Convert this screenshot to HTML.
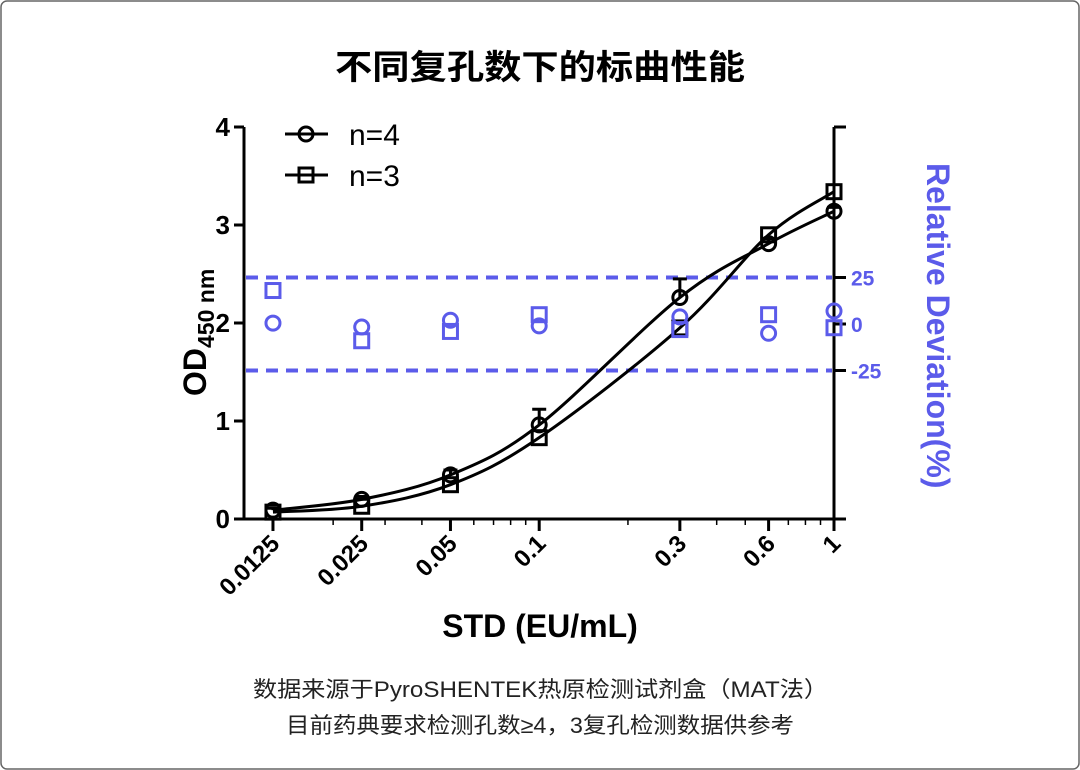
<!DOCTYPE html>
<html><head><meta charset="utf-8"><style>
body{margin:0;background:#fff;}
#wrap{position:relative;width:1080px;height:770px;overflow:hidden;}
</style></head><body>
<div id="wrap">
<svg id="chart" width="1080" height="770" xmlns="http://www.w3.org/2000/svg">
<rect x="1" y="1" width="1078" height="768" rx="6" fill="#fff" stroke="#666" stroke-width="1.5"/>
<text x="335" y="79" textLength="410" lengthAdjust="spacingAndGlyphs" font-family="'Liberation Sans','Noto Sans CJK SC',sans-serif" font-size="34" font-weight="bold">不同复孔数下的标曲性能</text>
<text x="253" y="697" textLength="575" lengthAdjust="spacingAndGlyphs" font-family="'Liberation Sans','Noto Sans CJK SC',sans-serif" font-size="22" fill="#222">数据来源于PyroSHENTEK热原检测试剂盒（MAT法）</text>
<text x="286" y="733" textLength="508" lengthAdjust="spacingAndGlyphs" font-family="'Liberation Sans','Noto Sans CJK SC',sans-serif" font-size="22" fill="#222">目前药典要求检测孔数≥4，3复孔检测数据供参考</text>
<g id="plot"></g>
</svg>
</div>
<script>
const xValues=[0.0125,0.025,0.05,0.1,0.3,0.6,1];
const xTickLabels=['0.0125','0.025','0.05','0.1','0.3','0.6','1'];
const odN4=[0.09,0.2,0.45,0.96,2.26,2.81,3.14];
const errN4=[0.02,0.03,0.05,0.16,0.19,0.05,0.04];
const odN3=[0.07,0.13,0.35,0.83,1.95,2.9,3.34];
const devN4=[0.5,-1.6,2,-1,3.8,-5,7];
const devN3=[18,-9,-4,5,-3,5,-2];
const yTicks=[0,1,2,3,4];
const rightTicks=[25,0,-25];

const NS='http://www.w3.org/2000/svg';
const g=document.getElementById('plot');
const X0=244,X1=834,Y0=519,Y1=127;
const xs=v=>834+294.8*Math.log10(v);
const ys=v=>519-98*v;
const yr=v=>324-1.86*v;
function el(t,a,p){const e=document.createElementNS(NS,t);for(const k in a)e.setAttribute(k,a[k]);(p||g).appendChild(e);return e;}
const BF="'Liberation Sans',sans-serif";

let e;
e=el('line',{x1:X0,y1:Y1,x2:X0,y2:Y0+1,stroke:'#000','stroke-width':3});

e=el('line',{x1:X0-1,y1:Y0,x2:X1+1,y2:Y0,stroke:'#000','stroke-width':3});

e=el('line',{x1:X1,y1:Y1,x2:X1,y2:Y0,stroke:'#000','stroke-width':3});

el('line',{x1:X1,y1:Y1,x2:X1+12,y2:Y1,stroke:'#000','stroke-width':3});
el('line',{x1:X1,y1:Y0,x2:X1+12,y2:Y0,stroke:'#000','stroke-width':3});

yTicks.forEach(t=>{
  el('line',{x1:X0-10,y1:ys(t),x2:X0,y2:ys(t),stroke:'#000','stroke-width':3});
  e=el('text',{x:X0-14,y:ys(t)+9,'text-anchor':'end','font-family':BF,'font-size':26,'font-weight':'bold'});
  e.textContent=t;
  
});
for(let d=-2;d<=0;d++){for(let m=1;m<10;m++){const v=m*Math.pow(10,d);if(v<0.0125||v>1)continue;
  el('line',{x1:xs(v),y1:Y0,x2:xs(v),y2:Y0+6,stroke:'#000','stroke-width':1.5});}}
xValues.forEach((v,i)=>{
  el('line',{x1:xs(v),y1:Y0,x2:xs(v),y2:Y0+12,stroke:'#000','stroke-width':3});
  const x=xs(v)+8,y=Y0+26;
  e=el('text',{x:x,y:y,'text-anchor':'end','font-family':BF,'font-size':24,'font-weight':'bold',transform:`rotate(-45 ${x} ${y})`});
  e.textContent=xTickLabels[i];
  
});
e=el('text',{x:540,y:637,'text-anchor':'middle','font-family':BF,'font-size':32,'font-weight':'bold'});
e.textContent='STD (EU/mL)';

e=el('text',{x:0,y:0,'font-family':BF,'font-size':32,'font-weight':'bold',transform:'translate(206,396) rotate(-90)'});
e.innerHTML='OD<tspan font-size="23" dy="8">450 nm</tspan>';


rightTicks.forEach(t=>{
  el('line',{x1:X1,y1:yr(t),x2:X1+12,y2:yr(t),stroke:'#000','stroke-width':3});
  e=el('text',{x:X1+17,y:yr(t)+8,'font-family':BF,'font-size':21,'font-weight':'bold',fill:'#5b5bea'});
  e.textContent=t;
  
});
e=el('text',{x:0,y:0,'font-family':BF,'font-size':32,'font-weight':'bold',fill:'#5b5bea',transform:'translate(927,163) rotate(90)'});
e.textContent='Relative Deviation(%)';


[25,-25].forEach(t=>{
  e=el('line',{x1:X0+2,y1:yr(t),x2:X1-2,y2:yr(t),stroke:'#5b5bea','stroke-width':4,'stroke-dasharray':'12 8'});
  
});

function curve(vals,name){
  const p=xValues.map((v,i)=>[xs(v),ys(vals[i])]);
  let d=`M${p[0][0]},${p[0][1]}`;
  for(let i=0;i<p.length-1;i++){
    const p0=p[Math.max(0,i-1)],p1=p[i],p2=p[i+1],p3=p[Math.min(p.length-1,i+2)];
    d+=` C${p1[0]+(p2[0]-p0[0])/6},${p1[1]+(p2[1]-p0[1])/6} ${p2[0]-(p3[0]-p1[0])/6},${p2[1]-(p3[1]-p1[1])/6} ${p2[0]},${p2[1]}`;
  }
  const c=el('path',{d:d,fill:'none',stroke:'#000','stroke-width':3});
  
}
curve(odN4,'curve-n4');curve(odN3,'curve-n3');

function circle(x,y,col,name){const c=el('circle',{cx:x,cy:y,r:7,fill:'none',stroke:col,'stroke-width':3});
  }
function square(x,y,col,name){const c=el('rect',{x:x-7,y:y-7,width:14,height:14,fill:'none',stroke:col,'stroke-width':3});
  }

xValues.forEach((v,i)=>{
  const x=xs(v);
  const yt=ys(odN4[i]+errN4[i]);
  el('line',{x1:x,y1:ys(odN4[i]),x2:x,y2:yt,stroke:'#000','stroke-width':3});
  el('line',{x1:x-7,y1:yt,x2:x+7,y2:yt,stroke:'#000','stroke-width':3});
  circle(x,ys(odN4[i]),'#000','point-n4');
  square(x,ys(odN3[i]),'#000','point-n3');
  circle(x,yr(devN4[i]),'#5b5bea','deviation-n4');
  square(x,yr(devN3[i]),'#5b5bea','deviation-n3');
});

[['n=4',circle,134,'legend-entry-n4'],['n=3',square,175,'legend-entry-n3']].forEach(([t,f,y,n])=>{
  el('line',{x1:285,y1:y,x2:328,y2:y,stroke:'#000','stroke-width':3});
  f(306,y,'#000','legend-marker');
  e=el('text',{x:349,y:y+11,'font-family':BF,'font-size':30});
  e.textContent=t;
  
});
</script>
</body></html>
